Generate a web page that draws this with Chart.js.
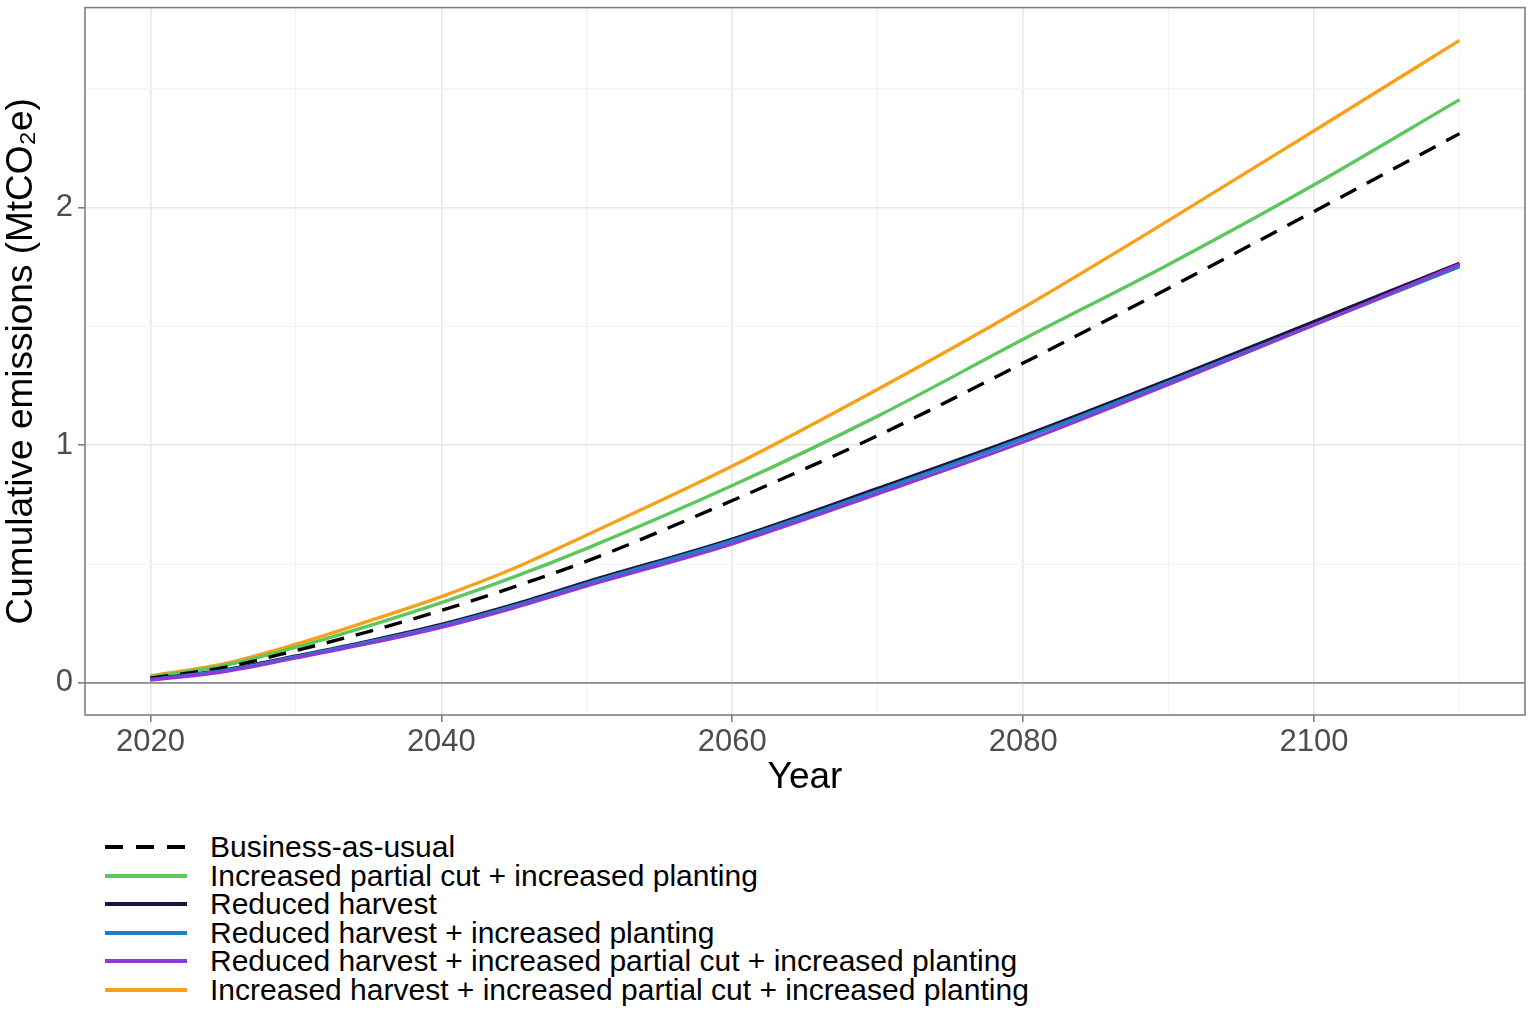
<!DOCTYPE html>
<html>
<head>
<meta charset="utf-8">
<script src="https://cdn.jsdelivr.net/npm/chart.js@4"></script>
<style>
  html, body { margin: 0; padding: 0; background: #fff; }
  body { width: 1535px; height: 1013px; overflow: hidden; position: relative; font-family: "Liberation Sans", Arial, sans-serif; }
  #wrap { position: absolute; left: 0; top: -16px; width: 1535px; height: 816px; }
  #legend { position: absolute; left: 103px; top: 833px; }
  .item { display: flex; align-items: center; height: 28.5px; }
  .item svg { margin-right: 21px; flex: none; }
  .label { font-size: 30px; color: #000; white-space: nowrap; line-height: 28px; }
</style>
</head>
<body>
<div id="wrap"><canvas id="c"></canvas></div>
<div id="legend"></div>
<script>
const years = [2020, 2025, 2030, 2035, 2040, 2045, 2050, 2060, 2070, 2080, 2090, 2100, 2110];

const seriesNames = [
  "Business-as-usual",
  "Increased partial cut + increased planting",
  "Reduced harvest",
  "Reduced harvest + increased planting",
  "Reduced harvest + increased partial cut + increased planting",
  "Increased harvest + increased partial cut + increased planting"
];
const seriesColors = ["#000000", "#5cc85c", "#21103f", "#1f7fc4", "#8a3ad6", "#f7a11a"];

const bau      = [0.020, 0.064, 0.136, 0.216, 0.305, 0.404, 0.512, 0.767, 1.040, 1.345, 1.660, 1.983, 2.310];
const incPart  = [0.025, 0.072, 0.150, 0.240, 0.338, 0.446, 0.566, 0.830, 1.122, 1.445, 1.760, 2.095, 2.453];
const redHarv  = [0.015, 0.053, 0.113, 0.176, 0.246, 0.330, 0.425, 0.605, 0.818, 1.038, 1.275, 1.520, 1.765];
const redPlant = [0.014, 0.051, 0.110, 0.172, 0.241, 0.324, 0.418, 0.598, 0.808, 1.028, 1.265, 1.507, 1.750];
const redPart  = [0.012, 0.047, 0.105, 0.166, 0.234, 0.316, 0.408, 0.585, 0.795, 1.013, 1.255, 1.505, 1.760];
const incHarv  = [0.030, 0.080, 0.163, 0.260, 0.363, 0.482, 0.622, 0.912, 1.235, 1.578, 1.945, 2.322, 2.702];

const seriesValues = [bau, incPart, redHarv, redPlant, redPart, incHarv];

const xMajor = [2020, 2040, 2060, 2080, 2100];
const xGrid = [2020, 2030, 2040, 2050, 2060, 2070, 2080, 2090, 2100, 2110];
const yMajor = [0, 1, 2];
const yGrid = [0, 0.5, 1, 1.5, 2, 2.5];

const drawOrder = [4, 3, 2, 0, 1, 5];

const datasets = drawOrder.map(i => ({
  label: seriesNames[i],
  data: years.map((y, k) => ({ x: y, y: seriesValues[i][k] })),
  borderColor: seriesColors[i],
  backgroundColor: seriesColors[i],
  borderWidth: 3.4,
  borderDash: i === 0 ? [18, 12] : [],
  pointRadius: 0,
  cubicInterpolationMode: 'monotone',
  fill: false
}));

const frame = {
  id: 'frame',
  afterDatasetsDraw(chart) {
    const { ctx, chartArea: a } = chart;
    ctx.save();
    ctx.strokeStyle = '#7f7f7f';
    ctx.lineWidth = 1.6;
    ctx.strokeRect(a.left, a.top, a.right - a.left, a.bottom - a.top);
    ctx.restore();
  }
};

const zeroLine = {
  id: 'zeroLine',
  beforeDatasetsDraw(chart) {
    const { ctx, chartArea: a, scales } = chart;
    const y = scales.y.getPixelForValue(0);
    ctx.save();
    ctx.strokeStyle = '#8a8a8a';
    ctx.lineWidth = 1.8;
    ctx.beginPath();
    ctx.moveTo(a.left, y);
    ctx.lineTo(a.right, y);
    ctx.stroke();
    ctx.restore();
  }
};

const font = "'Liberation Sans', Arial, sans-serif";

new Chart(document.getElementById('c'), {
  type: 'line',
  data: { datasets },
  options: {
    responsive: true,
    maintainAspectRatio: false,
    animation: false,
    layout: { padding: { top: 8, right: 10, left: 0, bottom: 0 } },
    plugins: { legend: { display: false }, tooltip: { enabled: false } },
    scales: {
      x: {
        type: 'linear',
        min: 2015.5,
        max: 2114.5,
        afterBuildTicks(s) { s.ticks = xGrid.map(v => ({ value: v })); },
        afterFit(s) { s.height = 85; },
        ticks: {
          autoSkip: false,
          maxRotation: 0,
          color: '#4d4d4d',
          font: { family: font, size: 31 },
          padding: 2,
          callback: v => xMajor.includes(v) ? String(v) : ''
        },
        grid: {
          color: c => xMajor.includes(c.tick.value) ? '#e8e8e8' : '#f2f2f2',
          lineWidth: c => xMajor.includes(c.tick.value) ? 1.6 : 1,
          tickColor: c => xMajor.includes(c.tick.value) ? '#7f7f7f' : 'rgba(0,0,0,0)',
          tickLength: 7,
          tickWidth: 1.6
        },
        border: { display: false },
        title: {
          display: true,
          text: 'Year',
          color: '#000',
          font: { family: font, size: 37 },
          padding: { top: 0, bottom: 0 }
        }
      },
      y: {
        type: 'linear',
        min: -0.135,
        max: 2.84,
        afterBuildTicks(s) { s.ticks = yGrid.map(v => ({ value: v })); },
        afterFit(s) { s.width = 85; },
        ticks: {
          autoSkip: false,
          color: '#4d4d4d',
          font: { family: font, size: 31 },
          padding: 5,
          callback: v => yMajor.includes(v) ? String(v) : ''
        },
        grid: {
          color: c => yMajor.includes(c.tick.value) ? '#e8e8e8' : '#f2f2f2',
          lineWidth: c => yMajor.includes(c.tick.value) ? 1.6 : 1,
          tickColor: c => yMajor.includes(c.tick.value) ? '#7f7f7f' : 'rgba(0,0,0,0)',
          tickLength: 7,
          tickWidth: 1.6
        },
        border: { display: false },
        title: {
          display: true,
          text: 'Cumulative emissions (MtCO₂e)',
          color: '#000',
          font: { family: font, size: 37 },
          padding: { top: 0, bottom: 2 }
        }
      }
    }
  },
  plugins: [zeroLine, frame]
});

const legend = document.getElementById('legend');
const NS = 'http://www.w3.org/2000/svg';
seriesNames.forEach((name, i) => {
  const row = document.createElement('div');
  row.className = 'item';
  const svg = document.createElementNS(NS, 'svg');
  svg.setAttribute('width', '86');
  svg.setAttribute('height', '10');
  const ln = document.createElementNS(NS, 'line');
  ln.setAttribute('x1', '2'); ln.setAttribute('x2', '84');
  ln.setAttribute('y1', '5'); ln.setAttribute('y2', '5');
  ln.setAttribute('stroke', seriesColors[i]);
  ln.setAttribute('stroke-width', '4');
  if (i === 0) ln.setAttribute('stroke-dasharray', '18 13');
  svg.appendChild(ln);
  const lb = document.createElement('div');
  lb.className = 'label';
  lb.textContent = name;
  row.appendChild(svg);
  row.appendChild(lb);
  legend.appendChild(row);
});
</script>
</body>
</html>
